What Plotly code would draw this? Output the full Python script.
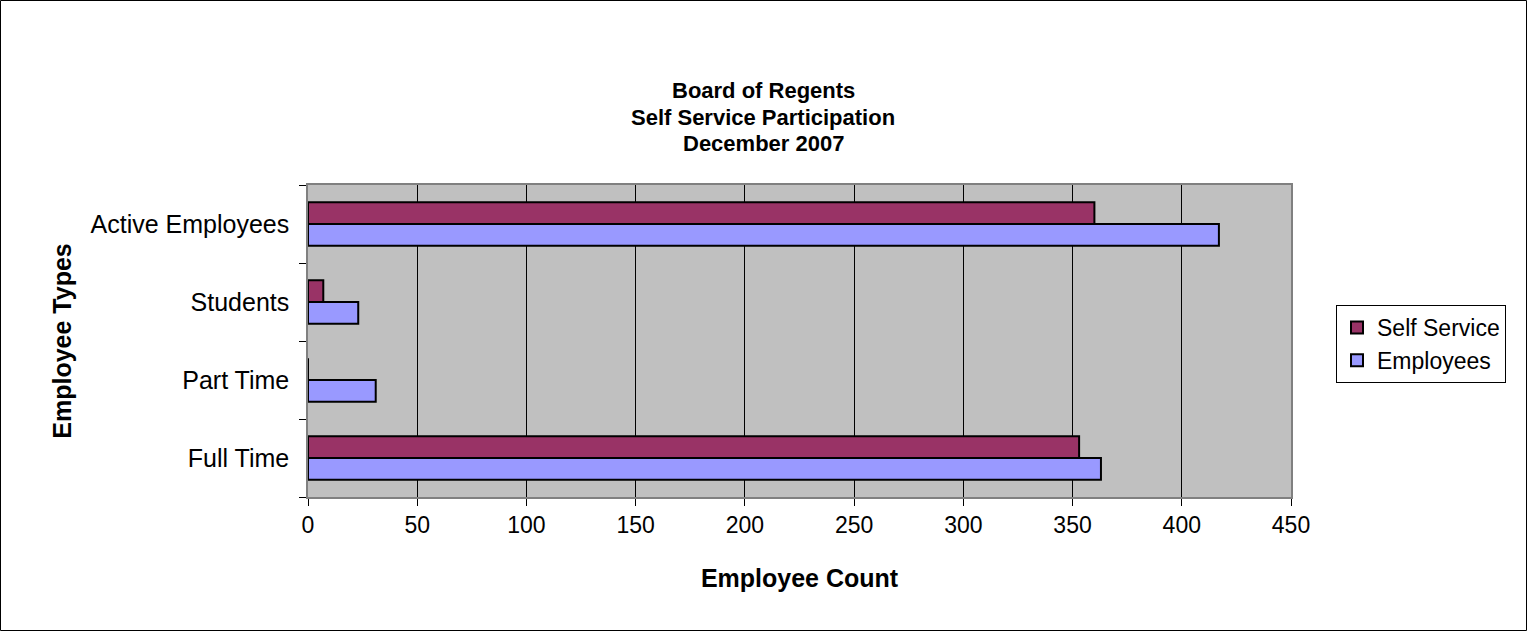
import plotly.graph_objects as go

categories = ["Full Time", "Part Time", "Students", "Active Employees"]
self_service = [353, 0, 7, 360]
employees = [363, 31, 23, 417]
x_ticks = [0, 50, 100, 150, 200, 250, 300, 350, 400, 450]

FONT = "Arial, Liberation Sans, sans-serif"
W, H = 1527, 631
ML, MR, MT, MB = 308, 236, 185, 134
PW, PH = W - ML - MR, H - MT - MB


def px_x(p):
    return (p - ML) / PW


def px_y(p):
    return (H - MB - p) / PH


fig = go.Figure()
fig.add_trace(go.Bar(
    y=categories, x=employees, name="Employees", orientation="h",
    marker=dict(color="#9999FF", line=dict(color="black", width=2)),
))
fig.add_trace(go.Bar(
    y=categories, x=self_service, name="Self Service", orientation="h",
    marker=dict(color="#993366", line=dict(color="black", width=2)),
))

title_lines = ["Board of Regents", "Self Service Participation", "December 2007"]
annotations = []
for i, line in enumerate(title_lines):
    annotations.append(dict(
        text=f"<b>{line}</b>", x=px_x(763), y=px_y(91 + 26 * i),
        xref="paper", yref="paper", xanchor="center", yanchor="middle",
        showarrow=False, font=dict(family=FONT, size=22, color="black"),
    ))

fig.update_layout(
    width=W, height=H,
    margin=dict(l=ML, r=MR, t=MT, b=MB),
    paper_bgcolor="white",
    plot_bgcolor="#C0C0C0",
    barmode="group",
    bargap=0.44,
    bargroupgap=0,
    font=dict(family=FONT, size=24, color="black"),
    showlegend=True,
    legend=dict(
        traceorder="reversed",
        x=px_x(1336), y=px_y(305), xanchor="left", yanchor="top",
        bgcolor="white", bordercolor="black", borderwidth=1,
        font=dict(family=FONT, size=23, color="black"),
        itemwidth=30, tracegroupgap=0,
    ),
    annotations=annotations,
    shapes=[dict(
        type="rect", xref="paper", yref="paper",
        x0=px_x(0.5), x1=px_x(W - 0.5), y0=px_y(H - 0.5), y1=px_y(0.5),
        line=dict(color="black", width=1), fillcolor="rgba(0,0,0,0)",
        layer="below",
    )],
    xaxis=dict(
        range=[0, 450], tickvals=x_ticks, ticktext=[str(v) for v in x_ticks],
        showgrid=True, gridcolor="black", gridwidth=1,
        zeroline=False,
        showline=True, linecolor="#808080", linewidth=1.5, mirror=True,
        ticks="outside", ticklen=7, tickcolor="black",
        tickfont=dict(family=FONT, size=23),
        title=dict(text="<b>Employee Count</b>", font=dict(family=FONT, size=25), standoff=32),
    ),
    yaxis=dict(
        showgrid=False, zeroline=False,
        showline=True, linecolor="#808080", linewidth=1.5, mirror=True,
        ticks="outside", ticklen=7, tickcolor="black", tickson="boundaries",
        ticklabelstandoff=12,
        tickfont=dict(family=FONT, size=25),
        title=dict(text="<b>Employee Types</b>", font=dict(family=FONT, size=25), standoff=12),
    ),
)

fig.write_html("out.html")
